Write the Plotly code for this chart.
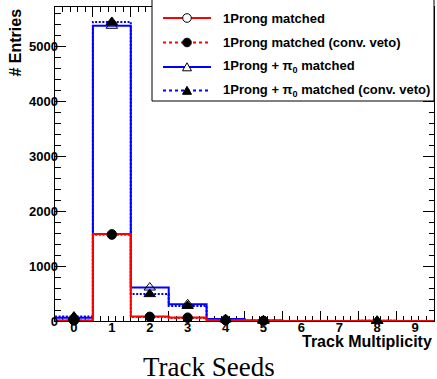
import plotly.graph_objects as go

# ---------------- data ----------------
bins = list(range(10))
tick_labels = [str(b) for b in bins]
edges = [b - 0.5 for b in bins] + [bins[-1] + 0.5]

prong1 = [10, 1585, 80, 65, 15, 5, 0, 0, 0, 0]
prong1_veto = [8, 1570, 75, 55, 12, 4, 0, 0, 0, 0]
prong1pi0 = [60, 5380, 610, 305, 35, 8, 0, 0, 3, 0]
prong1pi0_veto = [80, 5450, 490, 275, 28, 6, 0, 0, 3, 0]

series = [
    # name, values, color, dash, marker symbol
    ("1Prong + π<sub>0</sub> matched (conv. veto)", prong1pi0_veto, "#0000ff", "2px,1.6px", "triangle-up"),
    ("1Prong + π<sub>0</sub> matched", prong1pi0, "#0000ff", "solid", "triangle-up-open"),
    ("1Prong matched (conv. veto)", prong1_veto, "#ff0000", "2px,1.6px", "circle"),
    ("1Prong matched", prong1, "#ff0000", "solid", "circle-open"),
]

W, H = 437, 379
ML, MR, MT, MB = 55, 3, 7, 58
PL, PR, PT, PB = ML, W - MR, MT, H - MB


def pxx(p):
    return (p - PL) / (PR - PL)


def pxy(p):
    return (PB - p) / (PB - PT)


FONT = "Liberation Sans, Arial, Helvetica, sans-serif"
TICKFONT = dict(family=FONT, size=13, color="black", weight="bold")

fig = go.Figure()

# histogram outlines
for name, vals, color, dash, sym in series:
    fig.add_trace(go.Scatter(
        x=edges, y=vals + [vals[-1]], mode="lines", line_shape="hv",
        line=dict(color=color, width=2, dash=dash),
        showlegend=False, hoverinfo="skip"))

# markers (only non-empty bins)
order_markers = [series[3], series[2], series[1], series[0]]
for name, vals, color, dash, sym in order_markers:
    xs = [b for b, v in zip(bins, vals) if v > 0]
    ys = [v for v in vals if v > 0]
    size = 9 if "circle" in sym else 10
    fig.add_trace(go.Scatter(
        x=xs, y=ys, mode="markers", cliponaxis=False,
        marker=dict(symbol=sym, size=size, color="black",
                    line=dict(color="black", width=1)),
        showlegend=False, hoverinfo="skip"))

# dummy trace for the label axes
fig.add_trace(go.Scatter(x=[None], y=[None], xaxis="x2", yaxis="y2",
                         showlegend=False, hoverinfo="skip"))

ymax = 1.05 * max(max(s[1]) for s in series)

axis_common = dict(showline=True, linecolor="black", linewidth=1, mirror="allticks",
                   showgrid=False, zeroline=False, ticks="inside", tickcolor="black",
                   tickwidth=1, layer="below traces", showticklabels=False)

fig.update_layout(
    width=W, height=H,
    margin=dict(l=ML, r=MR, t=MT, b=MB, pad=0),
    paper_bgcolor="white", plot_bgcolor="white",
    showlegend=False,
    xaxis=dict(range=[edges[0], edges[-1]], tickmode="array", tickvals=edges,
               ticklen=10,
               minor=dict(dtick=0.2, tick0=edges[0], ticklen=5, ticks="inside",
                          tickcolor="black", showgrid=False),
               **axis_common),
    yaxis=dict(range=[0, ymax], tickmode="linear", tick0=0, dtick=1000, ticklen=11,
               minor=dict(dtick=200, ticklen=5.5, ticks="inside", tickcolor="black",
                          showgrid=False),
               **axis_common),
    xaxis2=dict(range=[edges[0], edges[-1]], overlaying="x", anchor="free",
                position=3.5 / (PB - PT), side="bottom",
                tickmode="array", tickvals=bins, ticktext=tick_labels, ticks="",
                showline=False, showgrid=False, zeroline=False, tickfont=TICKFONT),
    yaxis2=dict(range=[0, ymax], overlaying="y", anchor="free",
                position=3.0 / (PR - PL), side="left",
                tickmode="linear", tick0=0, dtick=1000, ticks="",
                showline=False, showgrid=False, zeroline=False, tickfont=TICKFONT),
)

annotations = [
    dict(text="Track Multiplicity", x=1, y=pxy(341.5), xref="paper", yref="paper",
         xanchor="right", yanchor="middle", showarrow=False,
         font=dict(family=FONT, size=16, color="black", weight="bold")),
    dict(text="# Entries", x=pxx(14.5), y=pxy(7), xref="paper", yref="paper",
         xanchor="center", yanchor="top", textangle=-90, showarrow=False,
         font=dict(family=FONT, size=16, color="black", weight="bold")),
    dict(text="Track Seeds", x=pxx(208.5), y=pxy(367), xref="paper", yref="paper",
         xanchor="center", yanchor="middle", showarrow=False,
         font=dict(family="Liberation Serif, Times New Roman, serif", size=27, color="black")),
]

shapes = [dict(type="rect", xref="paper", yref="paper", x0=pxx(152), x1=1,
               y0=pxy(101), y1=pxy(-2), line=dict(color="black", width=1),
               fillcolor="white", layer="above")]

legend_rows = [
    ("1Prong matched", "#ff0000", "solid", "circle-open", 18),
    ("1Prong matched (conv. veto)", "#ff0000", "dot", "circle", 42.5),
    ("1Prong + π<sub>0</sub> matched", "#0000ff", "solid", "tri-open", 67),
    ("1Prong + π<sub>0</sub> matched (conv. veto)", "#0000ff", "dot", "tri", 90.5),
]
for text, color, dash, sym, yy in legend_rows:
    shapes.append(dict(type="line", xref="paper", yref="paper", x0=pxx(163), x1=pxx(211),
                       y0=pxy(yy), y1=pxy(yy), layer="above",
                       line=dict(color=color, width=2, dash=dash)))
    if "circle" in sym:
        shapes.append(dict(type="circle", xref="paper", yref="paper",
                           xsizemode="pixel", ysizemode="pixel",
                           xanchor=pxx(187), yanchor=pxy(yy),
                           x0=-4.3, x1=4.3, y0=-4.3, y1=4.3, layer="above",
                           fillcolor="white" if sym == "circle-open" else "black",
                           line=dict(color="black", width=1)))
    else:
        shapes.append(dict(type="path", xref="paper", yref="paper",
                           xsizemode="pixel", ysizemode="pixel",
                           xanchor=pxx(187), yanchor=pxy(yy),
                           path="M -4.5,-3.8 L 4.5,-3.8 L 0,4.2 Z", layer="above",
                           fillcolor="white" if sym == "tri-open" else "black",
                           line=dict(color="black", width=1)))
    annotations.append(dict(text=text, x=pxx(221), y=pxy(yy), xref="paper", yref="paper",
                            xanchor="left", yanchor="middle", showarrow=False,
                            font=dict(family=FONT, size=13, color="black", weight="bold")))

fig.update_layout(annotations=annotations, shapes=shapes)

fig.write_html(
    "out.html",
    config={"displayModeBar": False},
    post_script="document.body.style.margin='0';document.body.style.padding='0';",
)
